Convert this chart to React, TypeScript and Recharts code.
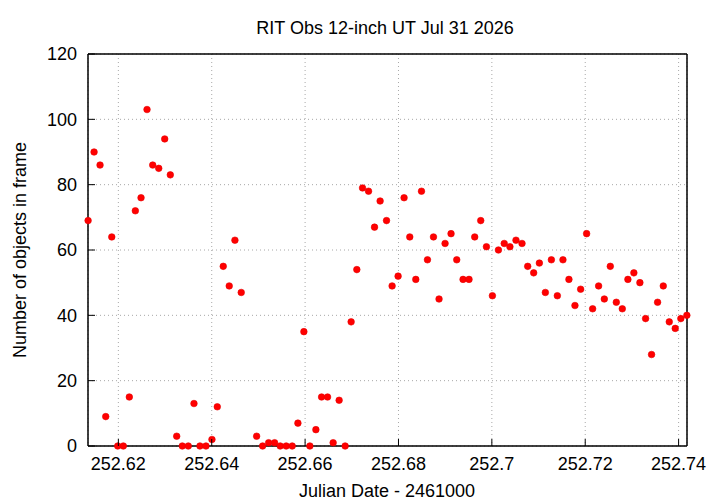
import React from 'react';
import { ScatterChart, Scatter, XAxis, YAxis, CartesianGrid } from 'recharts';

// Julian Date - 2461000 for each frame
const julianDates = [
  252.61352, 252.6148, 252.61608, 252.6173, 252.61859, 252.61987, 252.62107, 252.62235, 252.62364, 252.62486,
  252.62614, 252.62736, 252.62865, 252.62993, 252.63113, 252.6325, 252.6337, 252.63498, 252.6362, 252.63748,
  252.63877, 252.64005, 252.64119, 252.64247, 252.64375, 252.64497, 252.64632, 252.64962, 252.6509, 252.65219,
  252.65347, 252.65467, 252.65595, 252.65724, 252.65846, 252.65974, 252.66102, 252.66231, 252.66353, 252.66481,
  252.66601, 252.66729, 252.66858, 252.66986, 252.67108, 252.6723, 252.67359, 252.67487, 252.67607, 252.67744,
  252.67864, 252.67992, 252.6812, 252.68242, 252.68371, 252.68493, 252.68621, 252.6875, 252.68869, 252.68998,
  252.69126, 252.69248, 252.69383, 252.69511, 252.69633, 252.69762, 252.69884, 252.70012, 252.70141, 252.70265,
  252.70387, 252.70517, 252.70646, 252.70768, 252.70896, 252.71018, 252.71146, 252.71275, 252.71403, 252.71523,
  252.71651, 252.7178, 252.71902, 252.7203, 252.72159, 252.72287, 252.72409, 252.72537, 252.72666, 252.72794,
  252.72914, 252.73042, 252.73171, 252.73293, 252.73421, 252.7355, 252.73672, 252.738, 252.73928, 252.74048,
  252.74177,
];

// number of objects detected in each frame
const objectCounts = [
  69, 90, 86, 9, 64, 0, 0, 15, 72, 76,
  103, 86, 85, 94, 83, 3, 0, 0, 13, 0,
  0, 2, 12, 55, 49, 63, 47, 3, 0, 1,
  1, 0, 0, 0, 7, 35, 0, 5, 15, 15,
  1, 14, 0, 38, 54, 79, 78, 67, 75, 69,
  49, 52, 76, 64, 51, 78, 57, 64, 45, 62,
  65, 57, 51, 51, 64, 69, 61, 46, 60, 62,
  61, 63, 62, 55, 53, 56, 47, 57, 46, 57,
  51, 43, 48, 65, 42, 49, 45, 55, 44, 42,
  51, 53, 50, 39, 28, 44, 49, 38, 36, 39,
  40,
];

const xTicks = [252.62, 252.64, 252.66, 252.68, 252.7, 252.72, 252.74];
const yTicks = [0, 20, 40, 60, 80, 100, 120];
const xDomain = [252.6135, 252.7418];

const FONT = '"Liberation Sans", Arial, Helvetica, sans-serif';
const TICK_LEN = 7;

const data = julianDates.map((jd, i) => ({ jd, count: objectCounts[i] }));

const fmtX = (v: number) => String(Number(v.toFixed(2)));

// gnuplot style ticks: mark drawn inward, label outside
const BottomTick = ({ x, y, payload }: any) => (
  <g>
    <line x1={x} y1={y} x2={x} y2={y - TICK_LEN} stroke="#000" strokeWidth={1} />
    <text x={x} y={y + 24} textAnchor="middle" fontFamily={FONT} fontSize={18} fill="#000">
      {fmtX(payload.value)}
    </text>
  </g>
);

const TopTick = ({ x, y }: any) => (
  <line x1={x} y1={y} x2={x} y2={y + TICK_LEN} stroke="#000" strokeWidth={1} />
);

const LeftTick = ({ x, y, payload }: any) => (
  <g>
    <line x1={x} y1={y} x2={x + TICK_LEN} y2={y} stroke="#000" strokeWidth={1} />
    <text x={x - 11} y={y} dy="0.36em" textAnchor="end" fontFamily={FONT} fontSize={18} fill="#000">
      {payload.value}
    </text>
  </g>
);

const RightTick = ({ x, y }: any) => (
  <line x1={x} y1={y} x2={x - TICK_LEN} y2={y} stroke="#000" strokeWidth={1} />
);

const Dot = (props: any) => (
  <circle cx={props.cx} cy={props.cy} r={3.3} fill="#ff0000" stroke="#e80000" strokeWidth={0.6} />
);

const border = { stroke: '#000', strokeWidth: 1.5 };

export default function App() {
  return (
    <div style={{ position: 'absolute', left: 0, top: 0, width: 720, height: 504, background: '#fff' }}>
      <ScatterChart width={720} height={504} margin={{ top: 53, right: 32, bottom: 57, left: 87 }}>
        <CartesianGrid stroke="#a8a8a8" strokeDasharray="1 3" />
        <XAxis
          dataKey="jd"
          type="number"
          domain={xDomain}
          ticks={xTicks}
          interval={0}
          height={1}
          tickSize={0}
          tickMargin={0}
          tickLine={false}
          axisLine={border}
          tick={<BottomTick />}
        />
        <XAxis
          xAxisId="top"
          orientation="top"
          type="number"
          domain={xDomain}
          ticks={xTicks}
          interval={0}
          height={1}
          tickSize={0}
          tickMargin={0}
          tickLine={false}
          axisLine={border}
          tick={<TopTick />}
        />
        <YAxis
          dataKey="count"
          type="number"
          domain={[0, 120]}
          ticks={yTicks}
          interval={0}
          width={1}
          tickSize={0}
          tickMargin={0}
          tickLine={false}
          axisLine={border}
          tick={<LeftTick />}
        />
        <YAxis
          yAxisId="right"
          orientation="right"
          type="number"
          domain={[0, 120]}
          ticks={yTicks}
          interval={0}
          width={1}
          tickSize={0}
          tickMargin={0}
          tickLine={false}
          axisLine={border}
          tick={<RightTick />}
        />
        <Scatter data={data} shape={<Dot />} isAnimationActive={false} />
      </ScatterChart>

      {/* title and axis names */}
      <svg
        width={720}
        height={504}
        style={{ position: 'absolute', left: 0, top: 0, pointerEvents: 'none' }}
        fontFamily={FONT}
        fontSize={18}
        fill="#000"
      >
        <text x={385} y={34} textAnchor="middle">RIT Obs 12-inch UT Jul 31 2026</text>
        <text x={387} y={497} textAnchor="middle">Julian Date - 2461000</text>
        <text transform="translate(26,250) rotate(-90)" textAnchor="middle">Number of objects in frame</text>
      </svg>
    </div>
  );
}
